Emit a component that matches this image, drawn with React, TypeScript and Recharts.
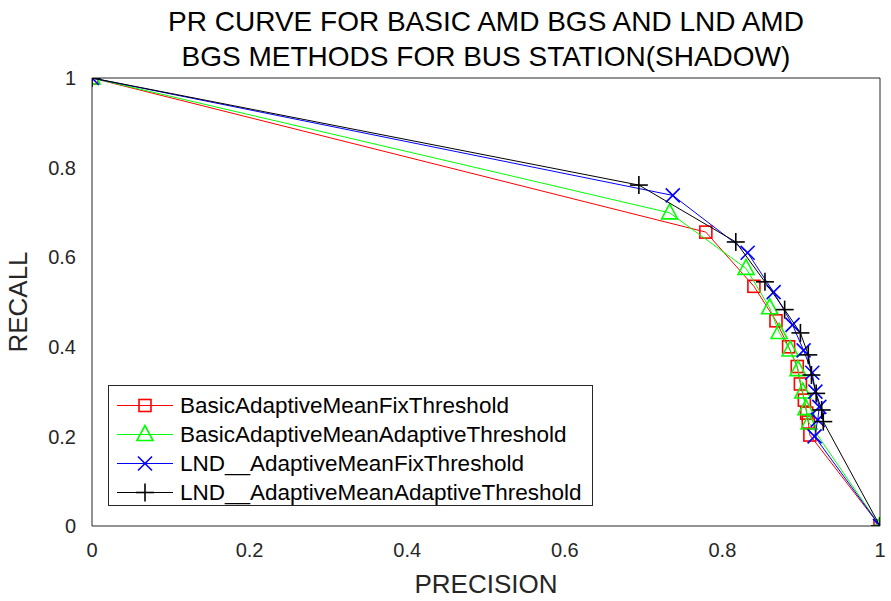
import React from "react";
import {
  ScatterChart,
  Scatter,
  XAxis,
  YAxis,
  ReferenceLine,
  Label,
} from "recharts";

const xTicks = [0, 0.2, 0.4, 0.6, 0.8, 1];
const yTicks = [0, 0.2, 0.4, 0.6, 0.8, 1];

const basicFixPrecision = [0, 0.779, 0.84, 0.868, 0.884, 0.895, 0.899, 0.904, 0.907, 0.909, 0.911, 1];
const basicFixRecall = [1, 0.656, 0.535, 0.458, 0.4, 0.356, 0.317, 0.281, 0.252, 0.232, 0.203, 0];

const basicAdaptPrecision = [0, 0.733, 0.83, 0.86, 0.872, 0.886, 0.896, 0.902, 0.906, 0.91, 1];
const basicAdaptRecall = [1, 0.699, 0.575, 0.487, 0.432, 0.393, 0.349, 0.299, 0.262, 0.23, 0];

const lndFixPrecision = [0, 0.737, 0.832, 0.865, 0.889, 0.903, 0.914, 0.918, 0.923, 0.921, 0.917, 1];
const lndFixRecall = [1, 0.738, 0.61, 0.522, 0.449, 0.392, 0.342, 0.3, 0.266, 0.237, 0.2, 0];

const lndAdaptPrecision = [0, 0.694, 0.817, 0.854, 0.879, 0.899, 0.909, 0.913, 0.919, 0.926, 0.928, 1];
const lndAdaptRecall = [1, 0.761, 0.634, 0.545, 0.483, 0.431, 0.382, 0.337, 0.296, 0.259, 0.233, 0];

const toPoints = (xs: number[], ys: number[]) => xs.map((x, i) => ({ x, y: ys[i] }));

const FONT = "'Liberation Sans', Arial, sans-serif";

type Marker = "square" | "triangle" | "cross" | "plus";

function drawMarker(kind: Marker, cx: number, cy: number, color: string) {
  const sw = 1.6;
  if (kind === "square") {
    return <rect x={cx - 6} y={cy - 6} width={12} height={12} fill="none" stroke={color} strokeWidth={sw} />;
  }
  if (kind === "triangle") {
    return (
      <polygon
        points={`${cx},${cy - 9} ${cx - 8},${cy + 6} ${cx + 8},${cy + 6}`}
        fill="none"
        stroke={color}
        strokeWidth={sw}
      />
    );
  }
  if (kind === "cross") {
    return (
      <g stroke={color} strokeWidth={sw}>
        <line x1={cx - 7} y1={cy - 7} x2={cx + 7} y2={cy + 7} />
        <line x1={cx - 7} y1={cy + 7} x2={cx + 7} y2={cy - 7} />
      </g>
    );
  }
  return (
    <g stroke={color} strokeWidth={sw}>
      <line x1={cx - 9} y1={cy} x2={cx + 9} y2={cy} />
      <line x1={cx} y1={cy - 9} x2={cx} y2={cy + 9} />
    </g>
  );
}

const series = [
  { name: "BasicAdaptiveMeanFixThreshold", color: "#ff0000", marker: "square" as Marker, data: toPoints(basicFixPrecision, basicFixRecall) },
  { name: "BasicAdaptiveMeanAdaptiveThreshold", color: "#00ff00", marker: "triangle" as Marker, data: toPoints(basicAdaptPrecision, basicAdaptRecall) },
  { name: "LND__AdaptiveMeanFixThreshold", color: "#0000ff", marker: "cross" as Marker, data: toPoints(lndFixPrecision, lndFixRecall) },
  { name: "LND__AdaptiveMeanAdaptiveThreshold", color: "#000000", marker: "plus" as Marker, data: toPoints(lndAdaptPrecision, lndAdaptRecall) },
];

function LegendBox() {
  return (
    <div
      style={{
        position: "absolute",
        left: 108,
        top: 385,
        width: 485,
        height: 121,
        border: "1px solid #262626",
        background: "#fff",
        boxSizing: "border-box",
      }}
    >
      {series.map((s, i) => (
        <div key={s.name} style={{ position: "absolute", left: 0, top: 5 + i * 29, height: 29, display: "flex", alignItems: "center", whiteSpace: "nowrap" }}>
          <svg width={70} height={29}>
            <line x1={8} y1={14.5} x2={64} y2={14.5} stroke={s.color} strokeWidth={1} />
            {drawMarker(s.marker, 36, 14.5, s.color)}
          </svg>
          <span style={{ fontFamily: FONT, fontSize: 22.5, color: "#000", marginLeft: 1 }}>{s.name}</span>
        </div>
      ))}
    </div>
  );
}

export default function App() {
  return (
    <div style={{ position: "absolute", left: 0, top: 0, width: 891, height: 601, background: "#fff" }}>
      <div
        style={{
          position: "absolute",
          left: 0,
          width: 972,
          top: 4,
          textAlign: "center",
          fontFamily: FONT,
          fontSize: 28,
          lineHeight: "35px",
          color: "#000",
          whiteSpace: "nowrap",
        }}
      >
        PR CURVE FOR BASIC AMD BGS AND LND AMD
        <br />
        BGS METHODS FOR BUS STATION(SHADOW)
      </div>
      <ScatterChart width={891} height={601} margin={{ top: 78, right: 11, bottom: 0, left: 0 }}>
        <XAxis
          type="number"
          dataKey="x"
          domain={[0, 1]}
          ticks={xTicks}
          tickFormatter={(v: number) => String(v)}
          height={75}
          stroke="#262626"
          tickLine={false}
          tickMargin={11}
          tick={{ fill: "#262626", fontSize: 20, fontFamily: FONT }}
          allowDataOverflow
        >
          <Label value="PRECISION" position="insideBottom" offset={8} style={{ fill: "#262626", fontSize: 26, fontFamily: FONT }} />
        </XAxis>
        <YAxis
          type="number"
          dataKey="y"
          domain={[0, 1]}
          ticks={yTicks}
          tickFormatter={(v: number) => String(v)}
          width={92}
          stroke="#262626"
          tickLine={false}
          tickMargin={10}
          tick={{ fill: "#262626", fontSize: 20, fontFamily: FONT }}
          allowDataOverflow
        >
          <Label value="RECALL" angle={-90} position="insideLeft" offset={18} style={{ fill: "#262626", fontSize: 26, fontFamily: FONT, textAnchor: "middle" }} />
        </YAxis>
        <ReferenceLine x={1} stroke="#262626" strokeWidth={1} ifOverflow="extendDomain" />
        <ReferenceLine y={1} stroke="#262626" strokeWidth={1} ifOverflow="extendDomain" />
        {series.map((s) => (
          <Scatter
            key={s.name}
            name={s.name}
            data={s.data}
            line={{ stroke: s.color, strokeWidth: 1 }}
            lineType="joint"
            isAnimationActive={false}
            shape={(p: any) => drawMarker(s.marker, p.cx, p.cy, s.color)}
          />
        ))}
      </ScatterChart>
      <LegendBox />
    </div>
  );
}
